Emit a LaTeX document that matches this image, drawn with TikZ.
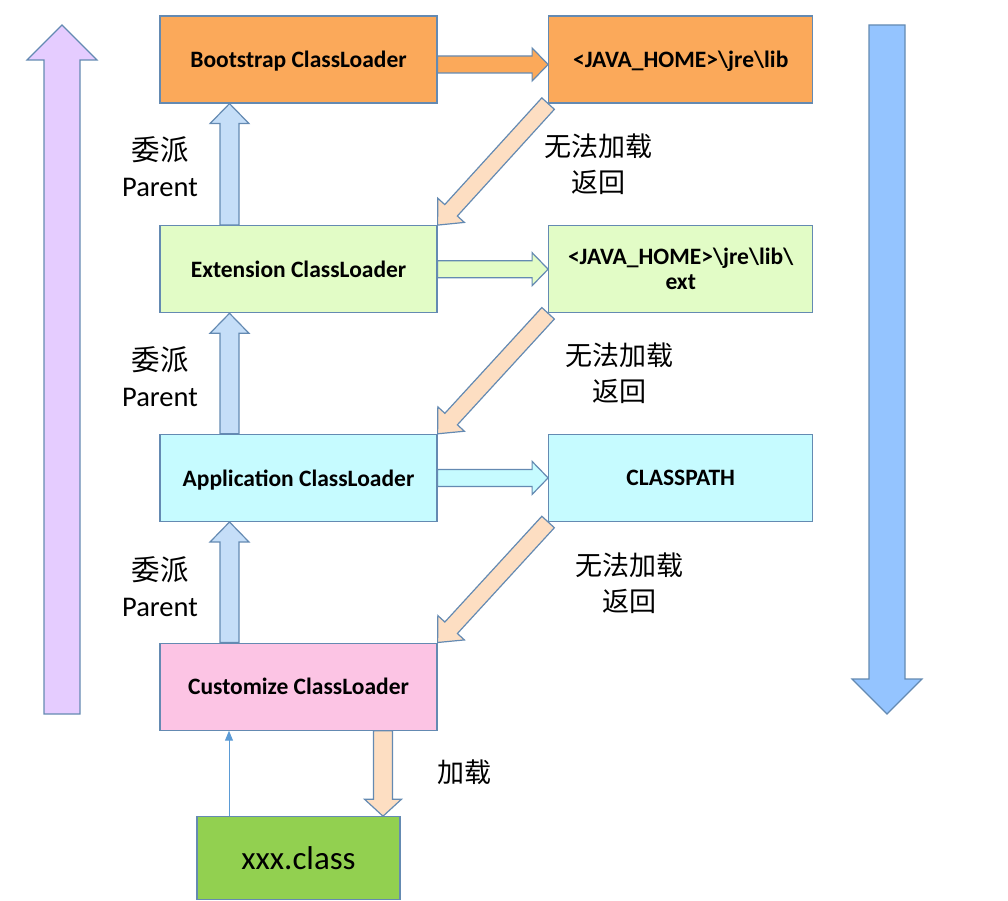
\documentclass[tikz,border=0pt]{standalone}
\usepackage{fontspec}
\setmainfont{Carlito}
\newfontfamily\cjk{Noto Sans CJK SC}
\usetikzlibrary{positioning, calc, arrows.meta}
\definecolor{edge}{RGB}{100,138,178}
\definecolor{bootc}{RGB}{251,169,90}
\definecolor{extc}{RGB}{226,252,198}
\definecolor{appc}{RGB}{198,251,255}
\definecolor{custc}{RGB}{252,196,228}
\definecolor{clsc}{RGB}{146,208,80}
\definecolor{upc}{RGB}{229,204,255}
\definecolor{downc}{RGB}{148,196,255}
\definecolor{parc}{RGB}{197,222,248}
\definecolor{failc}{RGB}{253,222,194}
\definecolor{linkc}{RGB}{91,155,213}
\tikzstyle{loader} = [draw=edge, line width=1.2pt, rectangle, minimum width=277pt, minimum height=87pt, align=center, text depth=0pt, font=\fontsize{23.5}{25}\selectfont\bfseries]
\tikzstyle{libbox} = [loader, minimum width=264pt]
\tikzstyle{note} = [align=center, font=\fontsize{28.5}{36}\selectfont]
\tikzstyle{fat} = [draw=edge, line width=1.2pt, line join=miter]
\tikzstyle{link} = [draw=linkc, line width=1pt, -{Triangle[length=10pt, width=8pt]}]
% block arrow: style, from, to, offset, shaft, head, head length
\newcommand{\blockarrow}[7]{%
  \path let \p1=($(#3)-(#2)$) in \pgfextra{%
    \pgfmathsetmacro\baang{atan2(\y1,\x1)}%
    \pgfmathsetmacro\balen{veclen(\x1,\y1)}%
    \global\let\baAng\baang \global\let\baLen\balen};
  \draw[#1, shift={(#2)}, shift={(#4)}, rotate=\baAng, x=1pt, y=1pt]
    (0,-#5/2) -- (\baLen-#7,-#5/2) -- (\baLen-#7,-#6/2) -- (\baLen,0)
    -- (\baLen-#7,#6/2) -- (\baLen-#7,#5/2) -- (0,#5/2) -- cycle;}

\begin{document}
\begin{tikzpicture}[x=1pt, y=-1pt]
  \useasboundingbox (0,0) rectangle (1008,901);
  % side arrows
  \draw[fat, fill=upc] (44,714) -- (44,60) -- (27,60) -- (62,25) -- (97,60) -- (80,60) -- (80,714) -- cycle;
  \draw[fat, fill=downc] (869,25) -- (869,679) -- (852,679) -- (887,714) -- (922,679) -- (905,679) -- (905,25) -- cycle;

  \node[loader, fill=bootc] (boot) at (298.5,59.5) {Bootstrap ClassLoader};
  \node[libbox, fill=bootc, right=110.5pt of boot] (jhome) {<JAVA\_HOME>\textbackslash jre\textbackslash lib};
  \node[loader, fill=extc, below=121.5pt of boot] (ext) {Extension ClassLoader};
  \node[libbox, fill=extc, right=110.5pt of ext] (extdir) {<JAVA\_HOME>\textbackslash jre\textbackslash lib\textbackslash\\ext};
  \node[loader, fill=appc, below=120.5pt of ext] (app) {Application ClassLoader};
  \node[libbox, fill=appc, right=110.5pt of app] (cpath) {CLASSPATH};
  \node[loader, fill=custc, below=120.5pt of app] (cust) {Customize ClassLoader};
  \node[loader, fill=clsc, below=85.5pt of cust, minimum width=203pt, minimum height=83pt,
    font=\fontsize{33}{36}\selectfont] (cls) {xxx.class};

  % delegate to parent
  \blockarrow{fat, fill=parc}{ext.north}{boot.south}{-69,0}{19}{39}{20}
  \blockarrow{fat, fill=parc}{app.north}{ext.south}{-69,0}{19}{39}{20}
  \blockarrow{fat, fill=parc}{cust.north}{app.south}{-69,0}{19}{39}{20}
  % search own path
  \blockarrow{fat, fill=bootc}{boot.east}{jhome.west}{0,5}{17}{33}{16}
  \blockarrow{fat, fill=extc}{ext.east}{extdir.west}{0,0}{17}{33}{16}
  \blockarrow{fat, fill=appc}{app.east}{cpath.west}{0,0}{17}{33}{16}
  % not found, back to child
  \blockarrow{fat, fill=failc}{jhome.south west}{ext.north east}{0,0}{17}{36}{20}
  \blockarrow{fat, fill=failc}{extdir.south west}{app.north east}{0,0}{17}{36}{20}
  \blockarrow{fat, fill=failc}{cpath.south west}{cust.north east}{0,0}{17}{36}{20}
  % load
  \blockarrow{fat, fill=failc}{cust.south}{cls.north}{84.5,0}{19}{37}{17}
  \draw[link] ($(cls.north)+(-69.5,0)$) -- ($(cust.south)+(-69.5,0)$);

  \node[note] (par1) at (160,167) {{\cjk 委派}\\Parent};
  \node[note] (par2) at (160,377) {{\cjk 委派}\\Parent};
  \node[note] (par3) at (160,587) {{\cjk 委派}\\Parent};
  \node[note, font=\fontsize{27}{36}\cjk] (ret1) at (598,164) {无法加载\\返回};
  \node[note, font=\fontsize{27}{36}\cjk] (ret2) at (619,373) {无法加载\\返回};
  \node[note, font=\fontsize{27}{36}\cjk] (ret3) at (629,583) {无法加载\\返回};
  \node[note, font=\fontsize{27}{36}\cjk] (load) at (464,772) {加载};
\end{tikzpicture}
\end{document}
